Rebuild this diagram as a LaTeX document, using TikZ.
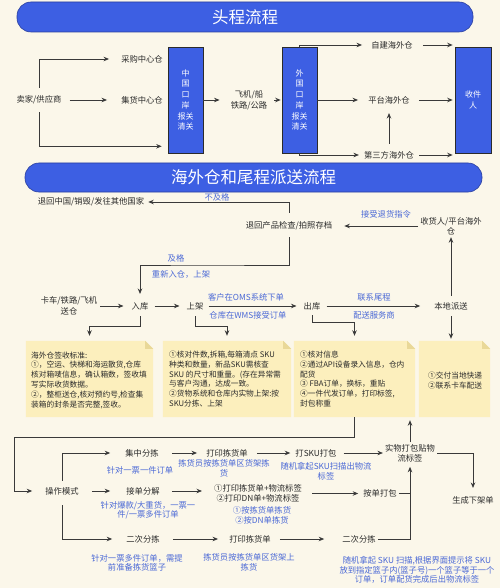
\documentclass[tikz,border=0pt]{standalone}
\usepackage{fontspec}
\setmainfont{Noto Sans CJK SC}
\usetikzlibrary{arrows.meta,calc}
\definecolor{bg}{HTML}{FBF7EA}
\definecolor{hdr}{HTML}{3D5FE3}
\definecolor{hdrline}{HTML}{2A3F9E}
\definecolor{lbl}{HTML}{4A68D6}
\definecolor{ink}{HTML}{2B2B2B}
\definecolor{wire}{HTML}{3A3A3A}
\definecolor{notey}{HTML}{FCEFBD}
\definecolor{notefold}{HTML}{E9D898}
\tikzset{
 txt/.style={inner sep=0pt, text=ink, font=\fontsize{8.3}{10.5}\selectfont, align=center},
 lab/.style={inner sep=0pt, text=lbl, font=\fontsize{8.3}{9.5}\selectfont, align=center},
 arr/.style={draw=wire, line width=0.8pt, -{Stealth[length=5.5pt,width=4.5pt]}},
 wirel/.style={draw=wire, line width=0.8pt},
 bluebox/.style={draw=ink, line width=0.6pt, fill=hdr, text=white, font=\fontsize{8}{10.7}\selectfont, align=center, inner sep=0pt, minimum width=35pt, minimum height=106pt},
 header/.style={draw=hdrline, line width=0.6pt, fill=hdr, rounded corners=14pt, text=white, font=\fontsize{16.5}{20}\selectfont, inner sep=0pt},
 notetxt/.style={inner sep=0pt, text=ink, font=\fontsize{7.7}{9.8}\selectfont, align=left},
 notearea/.style={inner sep=0pt, draw=none, minimum height=76pt},
}
\begin{document}
\begin{tikzpicture}[x=1pt,y=-1pt]
\useasboundingbox (0,0) rectangle (500,588);
\fill[bg] (0,0) rectangle (500,588);

% ---------- section 1 ----------
\node[header, minimum width=456pt, minimum height=30pt] (h1) at (245,17) {头程流程};
\node[txt] (seller) at (39,100) {卖家/供应商};
\node[txt] (cg) at (142,59) {采购中心仓};
\node[txt] (jh) at (142,100) {集货中心仓};
\node[bluebox] (cn) at (185.5,100) {中\\国\\口\\岸\\报关\\清关};
\node[txt] (air) at (249,100) {飞机/船\\铁路/公路};
\node[bluebox] (fr) at (299.5,100) {外\\国\\口\\岸\\报关\\清关};
\node[txt] (zj) at (392,45) {自建海外仓};
\node[txt] (pt) at (389,100) {平台海外仓};
\node[txt] (dsf) at (389,155) {第三方海外仓};
\node[bluebox, minimum width=36pt] (sj) at (473,100) {收件\\人};

\draw[arr, shorten <=8pt, shorten >=12pt] (seller.north) |- (cg.west);
\draw[arr, shorten <=8pt, shorten >=14pt] (seller.east) -- (jh.west);
\draw[arr, shorten <=8pt, shorten >=6pt] (seller.south) |- ($(cn.south west)+(0,-7)$);
\draw[arr, shorten >=11pt] (cn.east) -- (cn.east -| air.west);
\draw[arr, shorten <=7pt, shorten >=1pt] (air.east) -- (air.east -| fr.west);
\draw[arr, shorten >=9pt] (fr.north) |- (zj.west);
\draw[arr, shorten >=10pt] (fr.east) -- (fr.east -| pt.west);
\draw[arr, shorten >=5pt] (fr.south) |- (dsf.west);
\draw[arr, shorten <=10pt, shorten >=2pt] (zj.east) -- (zj.east -| sj.west);
\draw[arr, shorten <=9pt, shorten >=2pt] (pt.east) -- (pt.east -| sj.west);
\draw[arr, shorten <=5pt, shorten >=2pt] (dsf.east) -- (dsf.east -| sj.west);
\draw[arr, shorten <=7pt, shorten >=9pt] (dsf.north) -- (pt.south);

% ---------- section 2 ----------
\node[header, minimum width=457pt, minimum height=29pt] (h2) at (253.5,177.5) {海外仓和尾程派送流程};
\node[txt] (ret) at (91,202) {退回中国/销毁/发往其他国家};
\node[txt] (chk) at (289,226) {退回产品检查/拍照存档};
\node[txt] (rcv) at (451,226) {收货人/平台海外\\仓};
\node[txt] (ld) at (451,306) {本地派送};
\node[txt] (truck) at (69,306) {卡车/铁路/飞机\\送仓};
\node[txt] (rk) at (140,306) {入库};
\node[txt] (sjia) at (195,306) {上架};
\node[txt] (ck) at (312,306) {出库};

\draw[arr, shorten <=9pt, shorten >=4pt] (chk.north) |- (ret.east);
\node[lab] (lbjg) at (217,197) {不及格};
\coordinate (rj) at (200,265);
\draw[arr, shorten <=7pt, shorten >=8pt] (chk.south) |- (rj) -| (rk.north);
\node[lab] (ljg) at (176,258) {及格};
\node[lab] (lcx) at (181,274) {重新入仓，上架};
\draw[arr, shorten <=2pt, shorten >=12pt] (rcv.west) -- (rcv.west -| chk.east);
\node[lab] (ljs) at (386,214) {接受退货指令};
\draw[arr, shorten <=6pt, shorten >=2pt] (ld.north) -- (rcv.south);
\draw[arr, shorten <=3pt, shorten >=8pt] (truck.east) -- (truck.east -| rk.west);
\draw[arr, shorten <=6pt, shorten >=7pt] (rk.east) -- (sjia.west);
\draw[arr, shorten <=5pt, shorten >=7pt] (sjia.east) -- (ck.west);
\draw[arr, shorten <=6pt, shorten >=14pt] (ck.east) -- (ld.west);
\node[lab] (loms) at (246,297) {客户在OMS系统下单};
\node[lab] (lwms) at (248,315) {仓库在WMS接受订单};
\node[lab] (lwc) at (374,297) {联系尾程};
\node[lab] (lps) at (374,315) {配送服务商};

% notes
\node[notearea, minimum width=127pt] (n1) at (89.5,379) {};
\node[notearea, minimum width=128pt] (n2) at (227,379) {};
\node[notearea, minimum width=121pt] (n3) at (354.5,379) {};
\node[notearea, minimum width=71pt] (n4) at (454.5,379) {};
\foreach \n in {n1,n2,n3,n4}{
 \fill[notey] (\n.south west) -- (\n.north west) -- ($(\n.north east)+(-8,0)$) -- ($(\n.north east)+(0,8)$) -- (\n.south east) -- cycle;
 \fill[notefold] ($(\n.north east)+(-8,0)$) -- ($(\n.north east)+(-8,8)$) -- ($(\n.north east)+(0,8)$) -- cycle;
}
\node[notetxt, anchor=west] (t1) at (31,380) {海外仓签收标准:\\①，空运、快梯和海运散货,仓库\\核对箱唛信息，确认箱数，签收填\\写实际收货数据。\\②，整柜送仓,核对预约号,检查集\\装箱的封条是否完整,签收。};
\node[notetxt, anchor=west] (t2) at (169,379) {①核对件数,拆箱,每箱清点 SKU\\种类和数量，新品SKU需核查\\SKU 的尺寸和重量。(存在异常需\\与客户沟通，达成一致。\\②货物系统和仓库内实物上架:按\\SKU分拣、上架};
\node[notetxt, anchor=west] (t3) at (300,379) {①核对信息\\②通过API设备录入信息，仓内\\配货\\③ FBA订单，换标，重贴\\④一件代发订单，打印标签,\\封包称重};
\node[notetxt, anchor=west] (t4) at (428,380.5) {①交付当地快递\\②联系卡车配送};

\draw[arr, shorten <=6pt, shorten >=5pt] (rk.south) |- ($(n1.north)+(0,-14)$) -- (n1.north);
\draw[arr, shorten <=6pt, shorten >=5pt] (sjia.south) |- ($(n2.north)+(0,-14)$) -- (n2.north);
\draw[arr, shorten <=5pt, shorten >=5pt] (ck.south) |- ($(n3.north)+(0,-18)$) -- (n3.north);
\draw[arr, shorten <=6pt, shorten >=2pt] (ld.south) -- (ld.south |- n4.north);

% ---------- section 3 ----------
\node[txt] (opm) at (62,491) {操作模式};
\node[txt] (jz) at (142,453) {集中分拣};
\node[txt] (jd) at (143,491) {接单分解};
\node[txt] (ec) at (143,539) {二次分拣};
\coordinate (lc) at (14,437);
\draw[arr, shorten >=13pt] (n3.south) |- (lc) |- (opm.west);
\draw[arr, shorten <=6pt, shorten >=15pt] (opm.north) |- (jz.west);
\draw[arr, shorten <=13pt, shorten >=16pt] (opm.east) -- (jd.west);
\draw[arr, shorten <=10pt, shorten >=14pt] (opm.south) |- (ec.west);
\node[lab] (ljz) at (140,470) {针对一票一件订单};
\node[lab] (ljd) at (148,510) {针对爆款/大重货，一票一\\件/一票多件订单};
\node[lab] (lec) at (137,563) {针对一票多件订单，需提\\前准备拣货篮子};

\node[txt] (dy1) at (227,453) {打印拣货单};
\node[lab] (ldy1) at (224,468.5) {拣货员按拣货单区货架拣\\货};
\node[txt] (sku) at (316,453) {打SKU打包};
\node[lab] (lsku) at (326,471.5) {随机拿起SKU扫描出物流\\标签};
\node[txt] (sw) at (410,453.5) {实物打包贴物\\流标签};
\node[txt] (sc) at (473,500) {生成下架单};
\draw[arr, shorten <=13pt, shorten >=9pt] (jz.east) -- (dy1.west);
\draw[arr, shorten <=9pt, shorten >=5pt] (dy1.east) -- (sku.west);
\draw[arr, shorten <=7pt, shorten >=2pt] (sku.east) -- (sku.east -| sw.west);
\draw[arr, shorten <=2pt, shorten >=3pt] (sw.north) -- (sw.north |- n3.south);
\draw[arr, shorten <=2pt, shorten >=8pt] (sw.east) -| (sc.north);

\node[txt] (dd) at (258,493.5) {①打印拣货单+物流标签\\②打印DN单+物流标签};
\node[lab] (ldd) at (262,515.5) {①按拣货单拣货\\②按DN单拣货};
\node[txt] (ad) at (380,493) {按单打包};
\draw[arr, shorten <=12pt, shorten >=12pt] (jd.east) -- (jd.east -| dd.west);
\draw[arr, shorten <=10pt, shorten >=5pt] (dd.east) -- (dd.east -| ad.west);

\node[txt] (dy2) at (250,539) {打印拣货单};
\node[lab] (ldy2) at (249,562.5) {拣货员按拣货单区货架上\\拣货};
\node[txt] (ec2) at (359,539) {二次分拣};
\node[lab] (lec2) at (417,570) {随机拿起 SKU 扫描,根据界面提示将 SKU\\放到指定篮子内(篮子号)一个篮子等于一个\\订单，订单配货完成后出物流标签};
\draw[arr, shorten <=13pt, shorten >=11pt] (ec.east) -- (dy2.west);
\draw[arr, shorten <=9pt, shorten >=18pt] (dy2.east) -- (ec2.west);
\draw[arr, shorten <=2pt, shorten >=4pt] (ec2.east) -| (sw.south);
\draw[wirel, shorten <=2pt] (ad.east) -- (ad.east -| sw.south);
\end{tikzpicture}
\end{document}
